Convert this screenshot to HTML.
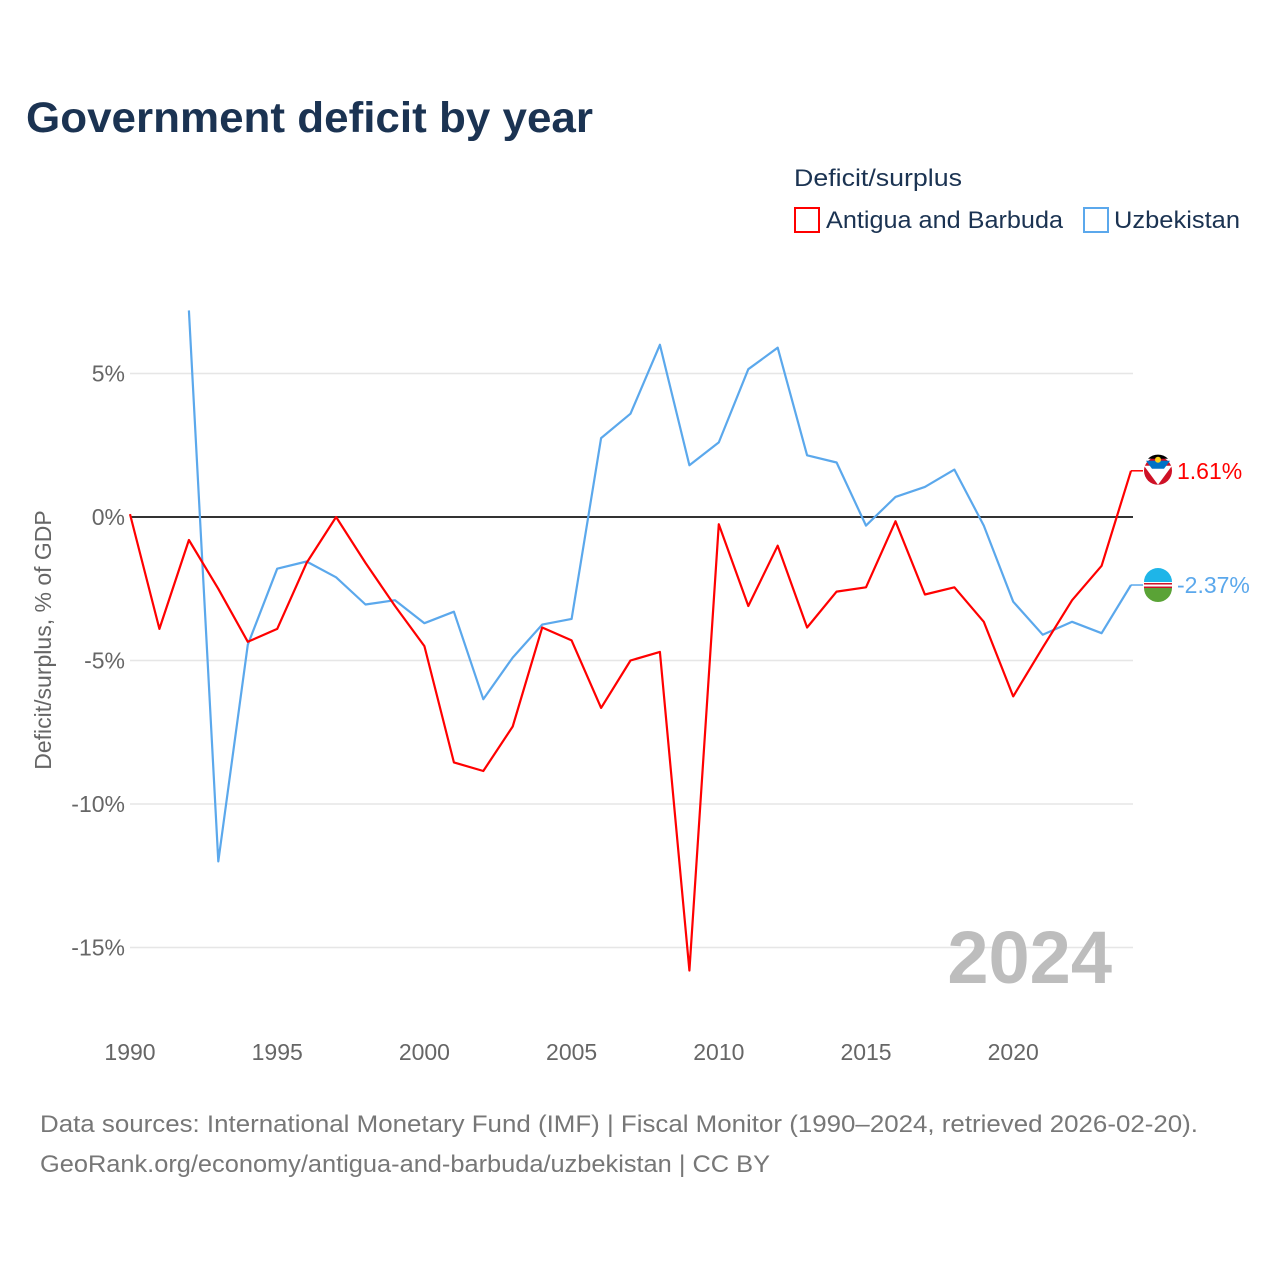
<!DOCTYPE html>
<html><head><meta charset="utf-8"><style>
body{margin:0;background:#fff;font-family:"Liberation Sans",sans-serif;}
svg text{font-family:"Liberation Sans",sans-serif;}
</style></head><body>
<svg id="chart" width="1280" height="1280" viewBox="0 0 1280 1280">
<text x="26" y="132" font-size="43" font-weight="bold" fill="#1b3352" textLength="567" lengthAdjust="spacingAndGlyphs">Government deficit by year</text>
<text x="794" y="186" font-size="24" fill="#1b3352" textLength="168" lengthAdjust="spacingAndGlyphs">Deficit/surplus</text>
<g><rect x="795" y="208" width="24" height="24" fill="none" stroke="#f00" stroke-width="2"/><text x="826" y="228" font-size="24" fill="#1b3352" textLength="237" lengthAdjust="spacingAndGlyphs">Antigua and Barbuda</text></g>
<g><rect x="1084" y="208" width="24" height="24" fill="none" stroke="#5ba8ec" stroke-width="2"/><text x="1114" y="228" font-size="24" fill="#1b3352" textLength="126" lengthAdjust="spacingAndGlyphs">Uzbekistan</text></g>
<g id="grid"></g><g id="axes"></g><g id="series"></g>
<text x="1112" y="983" font-size="74" font-weight="bold" fill="#bdbdbd" text-anchor="end">2024</text>
<text transform="translate(51,640) rotate(-90)" font-size="23" fill="#666" text-anchor="middle">Deficit/surplus, % of GDP</text>
<text x="40" y="1132" font-size="24" fill="#777" textLength="1158" lengthAdjust="spacingAndGlyphs">Data sources: International Monetary Fund (IMF) | Fiscal Monitor (1990–2024, retrieved 2026-02-20).</text>
<text x="40" y="1172" font-size="24" fill="#777" textLength="730" lengthAdjust="spacingAndGlyphs">GeoRank.org/economy/antigua-and-barbuda/uzbekistan | CC BY</text>
</svg>
<script>
const years=[];for(let y=1990;y<=2024;y++)years.push(y);
const antigua=[0.1,-3.9,-0.8,-2.5,-4.35,-3.9,-1.6,0,-1.6,-3.1,-4.5,-8.55,-8.85,-7.3,-3.85,-4.3,-6.65,-5.0,-4.7,-15.8,-0.25,-3.1,-1.0,-3.85,-2.6,-2.45,-0.15,-2.7,-2.45,-3.65,-6.25,-4.55,-2.9,-1.7,1.61];
const uzbekistan=[null,null,7.2,-12.0,-4.45,-1.8,-1.55,-2.1,-3.05,-2.9,-3.7,-3.3,-6.35,-4.9,-3.75,-3.55,2.75,3.6,6.0,1.8,2.6,5.15,5.9,2.15,1.9,-0.3,0.7,1.05,1.65,-0.3,-2.95,-4.1,-3.65,-4.05,-2.37];
const yTicks=[5,0,-5,-10,-15];
const xTicks=[1990,1995,2000,2005,2010,2015,2020];
const NS='http://www.w3.org/2000/svg';
const X=y=>130+(y-1990)*(1001/34);
const Y=v=>517-v*28.7;
function mk(t,a,p){const e=document.createElementNS(NS,t);for(const k in a)e.setAttribute(k,a[k]);p.appendChild(e);return e;}
const grid=document.getElementById('grid'),axes=document.getElementById('axes'),ser=document.getElementById('series');
yTicks.forEach(v=>{
 const l=mk('line',{x1:130,x2:1133,y1:Y(v),y2:Y(v),stroke:v===0?'#333':'#e6e6e6','stroke-width':v===0?2:1.5},grid);
 
 
 const t=mk('text',{x:125,y:Y(v)+8,'font-size':23,fill:'#666','text-anchor':'end'},axes);
 t.textContent=v+'%';
 
 
});
xTicks.forEach(y=>{
 const t=mk('text',{x:X(y),y:1060,'font-size':23,fill:'#666','text-anchor':'middle'},axes);
 t.textContent=y;
 
 
});
function line(vals,col,name){
 let d='';vals.forEach((v,i)=>{if(v===null)return;d+=(d?'L':'M')+X(years[i]).toFixed(1)+','+Y(v).toFixed(1);});
 const p=mk('path',{d:d,fill:'none',stroke:col,'stroke-width':2.2,'stroke-linejoin':'round'},ser);
 
 
}
line(uzbekistan,'#5ba8ec','series-uzbekistan');
line(antigua,'#f00','series-antigua');
function endLabel(v,col,name,fl){
 const x=X(2024),y=Y(v);
 mk('line',{x1:x,x2:x+12,y1:y,y2:y,stroke:col,'stroke-width':1.5},ser);
 const g=mk('g',{},ser);
 
 
 if(fl==='ag'){mk('circle',{cx:x+27,cy:y,r:14,fill:'#ce1126'},g);mk('path',{d:`M${x+13},${y-5}L${x+41},${y-5}L${x+27},${y+14}Z`,fill:'#fff'},g);mk('path',{d:`M${x+15},${y-10}L${x+39},${y-10}L${x+33},${y-2}L${x+21},${y-2}Z`,fill:'#0072c6'},g);mk('path',{d:`M${x+17},${y-12}A14 14 0 0 1 ${x+37},${y-12}Z`,fill:'#000'},g);mk('circle',{cx:x+27,cy:y-11,r:3,fill:'#fcd116'},g);}
 else{mk('circle',{cx:x+27,cy:y,r:14,fill:'#fff'},g);mk('path',{d:`M${x+13},${y-3}A14 14 0 0 1 ${x+41},${y-3}Z`,fill:'#1eb5e8'},g);mk('path',{d:`M${x+13},${y+3}A14 14 0 0 0 ${x+41},${y+3}Z`,fill:'#5aa336'},g);mk('rect',{x:x+13,y:y-2,width:28,height:1.5,fill:'#ce1126'},g);mk('rect',{x:x+13,y:y+1.5,width:28,height:1.5,fill:'#ce1126'},g);}
 const t=mk('text',{x:x+46,y:y+8,'font-size':23,fill:col},ser);
 t.textContent=v.toFixed(2)+'%';
 
 
}
endLabel(antigua[antigua.length-1],'#f00','antigua','ag');
endLabel(uzbekistan[uzbekistan.length-1],'#5ba8ec','uzbekistan','uz');
</script>
</body></html>
